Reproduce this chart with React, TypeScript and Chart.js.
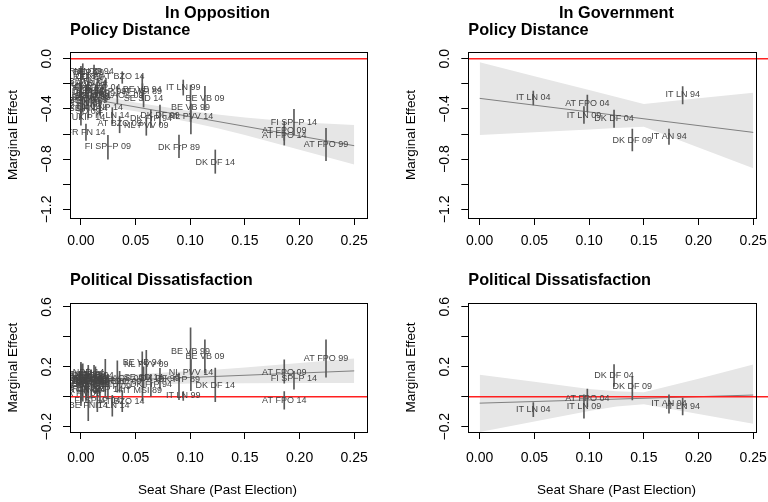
import { useEffect, useRef } from "react";
import { Chart, registerables } from "chart.js";
Chart.register(...registerables);

const FONT = "'Liberation Sans', Arial, Helvetica, sans-serif";

// ---------- In Opposition ----------
const oppLabels = [
  "AT FPO 99", "AT FPO 09", "AT FPO 14", "FI SP−P 14", "DK DF 14", "DK FrP 89", "BE VB 09", "BE VB 99",
  "NL PVV 14", "IT LN 99", "DK DF 99", "DK FrP 94", "NL PVV 09", "BE VB 94", "IT MSI 89", "SE SD 14",
  "AT BZO 09", "AT BZO 14", "IT LN 14", "FI SP−P 09", "FI SP−P 04", "FR FN 14", "UK UKIP 14", "BE FN 14",
  "BE FN 04", "UK BNP 14", "FR FN 89", "DE REP 99", "NL CD 94", "FI SP−P 99", "DE REP 94", "FR FN 94",
  "FR FN 09", "UK UKIP 09", "UK UKIP 04", "SE SD 09", "DE NPD 14", "GR LAOS 09", "GR LAOS 14", "BE FN 99",
  "BE FN 09", "BE VB 89", "DK FrP 99", "NL CD 89", "FR FN 99", "UK UKIP 99", "DE REP 89",
];
const oppSeat = [
  0.2242, 0.186, 0.186, 0.1949, 0.1229, 0.0897, 0.1134, 0.1003,
  0.1006, 0.0936, 0.0723, 0.064, 0.0598, 0.0561, 0.0563, 0.0573,
  0.0354, 0.0378, 0.0287, 0.0247, 0.015, 0.0046, 0.0, 0.0067,
  0.0067, 0.0174, 0.0017, 0.0, 0.012, 0.005, 0.0, 0.0,
  0.0, 0.0, 0.0, 0.0, 0.0, 0.0333, 0.0, 0.0133,
  0.0067, 0.0094, 0.0223, 0.0, 0.0017, 0.0, 0.0,
];
const oppPD = [
  -0.685, -0.576, -0.613, -0.51, -0.826, -0.709, -0.321, -0.39,
  -0.462, -0.228, -0.449, -0.475, -0.534, -0.244, -0.263, -0.316,
  -0.515, -0.143, -0.454, -0.7, -0.228, -0.587, -0.47, -0.4,
  -0.18, -0.385, -0.1, -0.11, -0.1, -0.3, -0.25, -0.33,
  -0.38, -0.26, -0.29, -0.42, -0.24, -0.29, -0.2, -0.28,
  -0.33, -0.31, -0.26, -0.14, -0.36, -0.21, -0.15,
];
const oppPDLo = [
  -0.813, -0.65, -0.688, -0.608, -0.913, -0.789, -0.41, -0.5,
  -0.6, -0.29, -0.53, -0.55, -0.61, -0.31, -0.33, -0.385,
  -0.59, -0.196, -0.52, -0.8, -0.3, -0.65, -0.53, -0.47,
  -0.25, -0.45, -0.16, -0.17, -0.16, -0.37, -0.31, -0.39,
  -0.44, -0.32, -0.35, -0.48, -0.3, -0.36, -0.26, -0.35,
  -0.4, -0.38, -0.34, -0.2, -0.42, -0.27, -0.21,
];
const oppPDHi = [
  -0.555, -0.5, -0.54, -0.403, -0.727, -0.608, -0.22, -0.21,
  -0.36, -0.17, -0.37, -0.41, -0.47, -0.13, -0.2, -0.25,
  -0.46, -0.104, -0.39, -0.61, -0.16, -0.52, -0.41, -0.33,
  -0.11, -0.32, -0.04, -0.06, -0.05, -0.23, -0.19, -0.27,
  -0.32, -0.2, -0.23, -0.36, -0.18, -0.22, -0.14, -0.21,
  -0.26, -0.24, -0.18, -0.08, -0.3, -0.15, -0.09,
];
const oppPS = [
  0.254, 0.165, -0.025, 0.122, 0.075, 0.113, 0.27, 0.303,
  0.162, 0.008, 0.12, 0.08, 0.218, 0.232, 0.042, 0.13,
  0.1, -0.032, -0.061, 0.07, -0.025, 0.05, 0.09, -0.061,
  0.1, 0.05, 0.15, 0.12, 0.14, 0.08, 0.11, 0.06,
  0.02, 0.13, 0.1, 0.09, 0.16, 0.12, 0.14, 0.11,
  0.12, 0.085, 0.1, 0.13, 0.045, 0.15, 0.1,
];
const oppPSLo = [
  0.131, 0.091, -0.083, 0.05, -0.032, -0.02, 0.158, 0.15,
  0.04, -0.025, 0.05, 0.0, 0.12, 0.14, -0.03, 0.06,
  0.03, -0.1, -0.13, -0.01, -0.1, -0.03, 0.01, -0.16,
  0.01, -0.04, 0.08, 0.05, 0.07, -0.01, 0.04, -0.02,
  -0.06, 0.06, 0.03, 0.01, 0.09, 0.03, 0.07, 0.02,
  0.03, -0.01, 0.0, 0.06, -0.03, 0.08, 0.03,
];
const oppPSHi = [
  0.381, 0.247, 0.035, 0.17, 0.192, 0.158, 0.38, 0.46,
  0.25, 0.035, 0.19, 0.15, 0.31, 0.3, 0.11, 0.2,
  0.17, 0.04, 0.01, 0.15, 0.05, 0.13, 0.17, 0.03,
  0.19, 0.14, 0.22, 0.19, 0.21, 0.17, 0.18, 0.14,
  0.1, 0.2, 0.17, 0.17, 0.23, 0.24, 0.21, 0.2,
  0.21, 0.18, 0.25, 0.2, 0.12, 0.22, 0.17,
];

// ---------- In Government ----------
const govLabels = ["IT LN 04", "AT FPO 04", "IT LN 09", "DK DF 04", "DK DF 09", "IT AN 94", "IT LN 94"];
const govSeat = [0.049, 0.0984, 0.0953, 0.1228, 0.1395, 0.173, 0.1855];
const govPD = [-0.311, -0.358, -0.449, -0.475, -0.65, -0.621, -0.289];
const govPDLo = [-0.369, -0.422, -0.515, -0.547, -0.735, -0.682, -0.361];
const govPDHi = [-0.257, -0.289, -0.382, -0.409, -0.56, -0.56, -0.223];
const govPS = [-0.088, -0.014, -0.066, 0.142, 0.069, -0.048, -0.066];
const govPSLo = [-0.133, -0.066, -0.143, 0.069, -0.021, -0.11, -0.121];
const govPSHi = [-0.039, 0.051, 0.013, 0.214, 0.135, 0.013, -0.01];

// ---------- fitted lines & confidence bands ----------
const fitX = [0, 0.25];
const oppPDFit = [-0.307, -0.693];
const govPDFit = [-0.316, -0.587];
const oppPSFit = [0.1, 0.173];
const govPSFit = [-0.043, 0.011];

const bandX = [0, 0.05, 0.1, 0.125, 0.15, 0.2, 0.25];
const oppPDUpper = [-0.262, -0.349, -0.416, -0.445, -0.468, -0.506, -0.528];
const oppPDLower = [-0.352, -0.419, -0.506, -0.555, -0.608, -0.726, -0.842];
const govPDUpper = [-0.029, -0.14, -0.25, -0.305, -0.361, -0.316, -0.271];
const govPDLower = [-0.608, -0.586, -0.564, -0.553, -0.542, -0.708, -0.873];
const oppPSUpper = [0.14, 0.15, 0.172, 0.183, 0.195, 0.225, 0.256];
const oppPSLower = [0.065, 0.08, 0.088, 0.089, 0.09, 0.092, 0.092];
const govPSUpper = [0.147, 0.1, 0.052, 0.036, 0.03, 0.12, 0.214];
const govPSLower = [-0.235, -0.165, -0.095, -0.065, -0.05, -0.115, -0.18];

const refX = [-1, 1];
const refY = [0, 0];

// ---------- ticks ----------
const xTicks = [0, 0.05, 0.1, 0.15, 0.2, 0.25];
const xTickLabels = ["0.00", "0.05", "0.10", "0.15", "0.20", "0.25"];
const pdTicks = [0, -0.2, -0.4, -0.6, -0.8, -1.0, -1.2];
const pdTickLabels = ["0.0", "", "−0.4", "", "−0.8", "", "−1.2"];
const psTicks = [0.6, 0.4, 0.2, 0, -0.2];
const psTickLabels = ["0.6", "", "0.2", "", "−0.2"];

type Panel = {
  header?: string;
  title: string;
  titleY: number;
  labels: string[];
  seat: number[];
  est: number[];
  lo: number[];
  hi: number[];
  fit: number[];
  upper: number[];
  lower: number[];
  yMin: number;
  yMax: number;
  yTicks: number[];
  yTickLabels: string[];
  xMin: number;
  xMax: number;
  boxRight?: number;
  axisW: number;
  padTop: number;
  padRight: number;
  axisH: number;
  xTickGap: number;
  xTitle?: string;
};

const panels: Panel[] = [
  {
    header: "In Opposition", title: "Policy Distance", titleY: 30.7,
    labels: oppLabels, seat: oppSeat, est: oppPD, lo: oppPDLo, hi: oppPDHi,
    fit: oppPDFit, upper: oppPDUpper, lower: oppPDLower,
    yMin: -1.269, yMax: 0.0534, yTicks: pdTicks, yTickLabels: pdTickLabels,
    xMin: -0.01, xMax: 0.2617, axisW: 70, padTop: 52, padRight: 17, axisH: 33, xTickGap: 23.5,
  },
  {
    header: "In Government", title: "Policy Distance", titleY: 30.7,
    labels: govLabels, seat: govSeat, est: govPD, lo: govPDLo, hi: govPDHi,
    fit: govPDFit, upper: govPDUpper, lower: govPDLower,
    yMin: -1.269, yMax: 0.0534, yTicks: pdTicks, yTickLabels: pdTickLabels,
    xMin: -0.0104, xMax: 0.2635, boxRight: 0.2523, axisW: 84.3, padTop: 52, padRight: 0, axisH: 33, xTickGap: 23.5,
  },
  {
    title: "Political Dissatisfaction", titleY: 29.3,
    labels: oppLabels, seat: oppSeat, est: oppPS, lo: oppPSLo, hi: oppPSHi,
    fit: oppPSFit, upper: oppPSUpper, lower: oppPSLower,
    yMin: -0.2354, yMax: 0.6247, yTicks: psTicks, yTickLabels: psTickLabels,
    xMin: -0.01, xMax: 0.2617, axisW: 70, padTop: 52.3, padRight: 17, axisH: 70, xTickGap: 26.5,
    xTitle: "Seat Share (Past Election)",
  },
  {
    title: "Political Dissatisfaction", titleY: 29.3,
    labels: govLabels, seat: govSeat, est: govPS, lo: govPSLo, hi: govPSHi,
    fit: govPSFit, upper: govPSUpper, lower: govPSLower,
    yMin: -0.2354, yMax: 0.6247, yTicks: psTicks, yTickLabels: psTickLabels,
    xMin: -0.0104, xMax: 0.2635, boxRight: 0.2523, axisW: 84.3, padTop: 52, padRight: 0, axisH: 70, xTickGap: 26.5,
    xTitle: "Seat Share (Past Election)",
  },
];

function makeDecor(p: Panel) {
  return {
    id: "decor",
    afterDatasetsDraw(chart: any) {
      const { ctx, chartArea: a } = chart;
      const meta = chart.getDatasetMeta(0);
      ctx.save();
      ctx.beginPath();
      ctx.rect(a.left, a.top, a.right - a.left, a.bottom - a.top);
      ctx.clip();
      ctx.font = `9px ${FONT}`;
      ctx.fillStyle = "#444444";
      ctx.textAlign = "center";
      ctx.textBaseline = "middle";
      meta.data.forEach((el: any, i: number) => ctx.fillText(p.labels[i], el.x, el.y));
      ctx.restore();
    },
    afterDraw(chart: any) {
      const { ctx, chartArea: a, scales } = chart;
      const x = scales.x;
      const y = scales.y;
      ctx.save();
      // box
      const right = p.boxRight !== undefined ? x.getPixelForValue(p.boxRight) : a.right;
      ctx.strokeStyle = "#000";
      ctx.lineWidth = 1;
      ctx.strokeRect(Math.round(a.left) + 0.5, Math.round(a.top) + 0.5, Math.round(right) - Math.round(a.left), Math.round(a.bottom) - Math.round(a.top));
      ctx.fillStyle = "#000";
      ctx.textAlign = "center";
      ctx.textBaseline = "middle";
      // x tick labels
      ctx.font = `14px ${FONT}`;
      xTicks.forEach((v, i) => ctx.fillText(xTickLabels[i], x.getPixelForValue(v), a.bottom + p.xTickGap));
      // y tick labels (rotated)
      p.yTicks.forEach((v, i) => {
        const t = p.yTickLabels[i];
        if (!t) return;
        ctx.save();
        ctx.translate(a.left - 23.3, y.getPixelForValue(v));
        ctx.rotate(-Math.PI / 2);
        ctx.fillText(t, 0, 0);
        ctx.restore();
      });
      // axis titles
      ctx.font = `13.5px ${FONT}`;
      ctx.save();
      ctx.translate(a.left - 56.8, (a.top + a.bottom) / 2);
      ctx.rotate(-Math.PI / 2);
      ctx.fillText("Marginal Effect", 0, 0);
      ctx.restore();
      const cx = x.getPixelForValue(0.125);
      if (p.xTitle) ctx.fillText(p.xTitle, cx, a.bottom + 58.3);
      // titles
      ctx.font = `bold 16.3px ${FONT}`;
      if (p.header) ctx.fillText(p.header, cx, 14);
      ctx.textAlign = "left";
      ctx.fillText(p.title, a.left, p.titleY);
      ctx.restore();
    },
  };
}

function makeConfig(p: Panel): any {
  const pts = p.seat.map((s, i) => ({ x: s, y: p.est[i] }));
  const bars = p.seat.map((s, i) => ({ x: s, y: [p.lo[i], p.hi[i]] }));
  return {
    type: "scatter",
    data: {
      datasets: [
        { type: "scatter", data: pts, pointRadius: 0, pointHoverRadius: 0 },
        {
          type: "bar", data: bars, backgroundColor: "#5a5a5a", borderWidth: 0,
          barThickness: 1, grouped: false,
        },
        {
          type: "line", data: refX.map((v, i) => ({ x: v, y: refY[i] })), borderColor: "#ff2020",
          borderWidth: 1.6, pointRadius: 0, fill: false,
        },
        {
          type: "line", data: fitX.map((v, i) => ({ x: v, y: p.fit[i] })), borderColor: "#808080",
          borderWidth: 1, pointRadius: 0, fill: false,
        },
        {
          type: "line", data: bandX.map((v, i) => ({ x: v, y: p.lower[i] })), borderWidth: 0,
          borderColor: "rgba(0,0,0,0)", pointRadius: 0, fill: false,
        },
        {
          type: "line", data: bandX.map((v, i) => ({ x: v, y: p.upper[i] })), borderWidth: 0,
          borderColor: "rgba(0,0,0,0)", pointRadius: 0, fill: "-1", backgroundColor: "#e6e6e6",
        },
      ],
    },
    options: {
      responsive: false,
      animation: false,
      devicePixelRatio: 1,
      events: [],
      layout: { padding: { top: p.padTop, right: p.padRight, left: 0, bottom: 0 } },
      plugins: {
        legend: { display: false },
        tooltip: { enabled: false },
        title: { display: false },
        filler: { drawTime: "beforeDatasetsDraw" },
      },
      scales: {
        x: {
          type: "linear", min: p.xMin, max: p.xMax, offset: false,
          afterBuildTicks: (s: any) => { s.ticks = xTicks.map((v) => ({ value: v })); },
          afterFit: (s: any) => { s.height = p.axisH; },
          ticks: { display: false },
          grid: { display: true, drawOnChartArea: false, drawTicks: true, tickLength: 7, color: "#000", lineWidth: 1, offset: false },
          border: { display: false },
        },
        y: {
          type: "linear", min: p.yMin, max: p.yMax,
          afterBuildTicks: (s: any) => { s.ticks = p.yTicks.map((v) => ({ value: v })); },
          afterFit: (s: any) => { s.width = p.axisW; },
          ticks: { display: false },
          grid: { display: true, drawOnChartArea: false, drawTicks: true, tickLength: 7, color: "#000", lineWidth: 1 },
          border: { display: false },
        },
      },
    },
    plugins: [makeDecor(p)],
  };
}

function PanelChart({ p, left, top }: { p: Panel; left: number; top: number }) {
  const ref = useRef<HTMLCanvasElement | null>(null);
  useEffect(() => {
    if (!ref.current) return;
    const chart = new Chart(ref.current, makeConfig(p));
    return () => chart.destroy();
  }, [p]);
  return (
    <canvas
      ref={ref}
      width={384}
      height={251}
      style={{ position: "absolute", left, top, width: 384, height: 251, display: "block" }}
    />
  );
}

export default function App() {
  useEffect(() => {
    document.body.style.margin = "0";
  }, []);
  return (
    <div style={{ position: "fixed", left: 0, top: 0, width: 768, height: 502, background: "#fff", overflow: "hidden" }}>
      <PanelChart p={panels[0]} left={0} top={0} />
      <PanelChart p={panels[1]} left={384} top={0} />
      <PanelChart p={panels[2]} left={0} top={251} />
      <PanelChart p={panels[3]} left={384} top={251} />
    </div>
  );
}
